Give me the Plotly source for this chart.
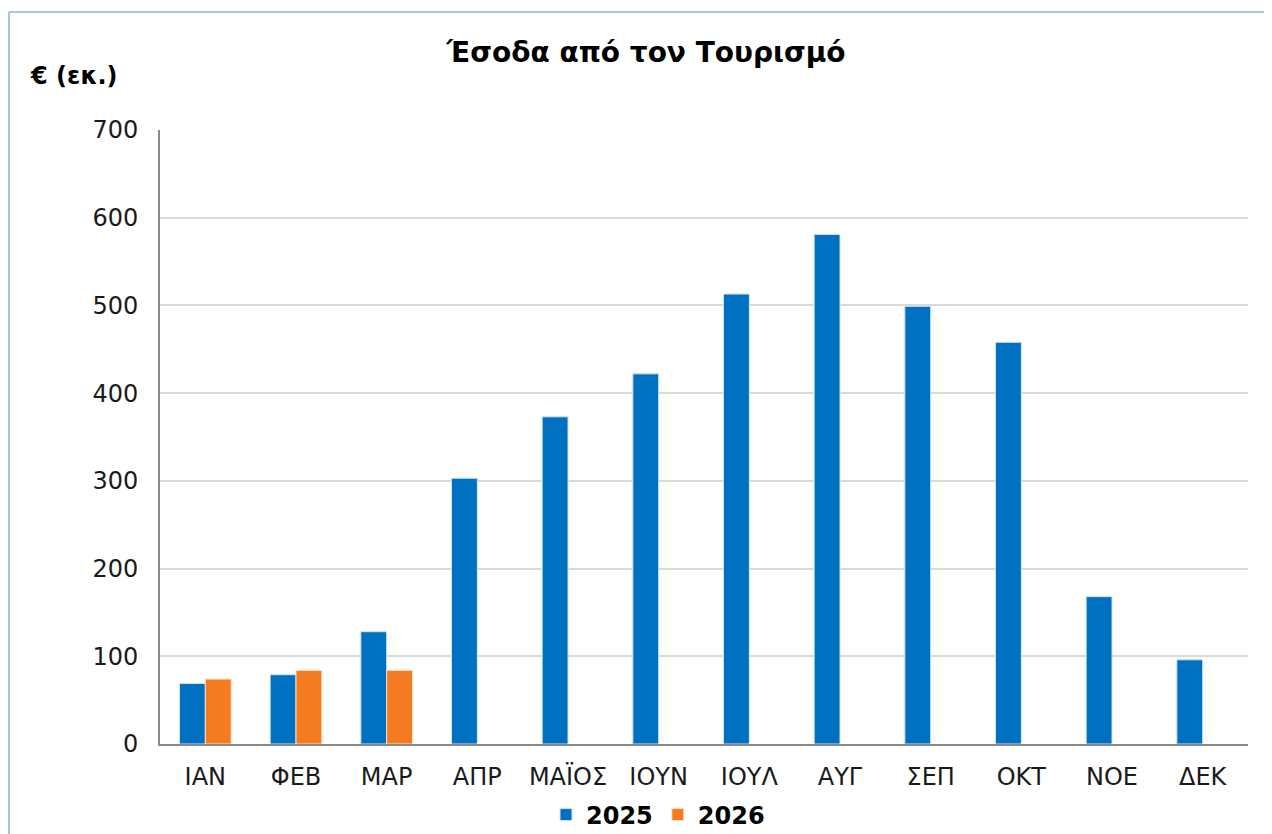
import plotly.graph_objects as go

months = ["ΙΑΝ", "ΦΕΒ", "ΜΑΡ", "ΑΠΡ", "ΜΑΪΟΣ", "ΙΟΥΝ", "ΙΟΥΛ", "ΑΥΓ", "ΣΕΠ", "ΟΚΤ", "ΝΟΕ", "ΔΕΚ"]
values_2025 = [69, 79, 128, 303, 373, 422, 513, 581, 499, 458, 168, 96]
months_2026 = ["ΙΑΝ", "ΦΕΒ", "ΜΑΡ"]
values_2026 = [74, 84, 84]
y_ticks = [0, 100, 200, 300, 400, 500, 600, 700]

FONT = "DejaVu Sans"
W, H = 1264, 826
L, R, T, B = 152, 24, 122, 90
PW, PH = W - L - R, H - T - B

fig = go.Figure()
fig.add_trace(go.Bar(
    x=months, y=values_2025, name="<b>2025</b>",
    marker=dict(color="#0070C0", line=dict(color="#cfe3f5", width=1)),
))
fig.add_trace(go.Bar(
    x=months_2026, y=values_2026, name="<b>2026</b>",
    marker=dict(color="#F47B20", line=dict(color="#fde0c8", width=1)),
))

border = dict(color="#a9c4eb", width=2)
fig.update_layout(
    width=W, height=H,
    paper_bgcolor="white", plot_bgcolor="white",
    margin=dict(l=L, r=R, t=T, b=B, autoexpand=False),
    barmode="group", bargap=0.43, bargroupgap=0,
    font=dict(family=FONT, color="#1a1a1a", size=20),
    title=dict(text="<b>Έσοδα από τον Τουρισμό</b>", x=638 / W, xanchor="center",
               y=1 - 44 / H, yanchor="middle",
               font=dict(family=FONT, size=28, color="#000000")),
    showlegend=True,
    legend=dict(orientation="h", xref="container", yref="container",
                x=650 / W, xanchor="center", y=(H - 807) / H, yanchor="middle",
                font=dict(family=FONT, size=24, color="#000000"),
                itemwidth=30, traceorder="normal"),
    xaxis=dict(
        categoryorder="array", categoryarray=months,
        showline=True, linecolor="#898989", linewidth=2,
        ticks="", ticklabelstandoff=10,
        tickfont=dict(family=FONT, size=24, color="#1a1a1a"),
        showgrid=False,
    ),
    yaxis=dict(
        range=[0, 700], tickvals=y_ticks,
        showline=True, linecolor="#898989", linewidth=2,
        showgrid=True, gridcolor="#d9d9d9", gridwidth=2,
        ticks="", ticklen=0, ticklabelstandoff=15,
        tickfont=dict(family=FONT, size=24, color="#1a1a1a"),
        zeroline=False,
    ),
    annotations=[
        dict(text="<b>€ (εκ.)</b>", xref="paper", yref="paper",
             x=-(L - 20) / PW, xanchor="left",
             y=1 + (T - 68) / PH, yanchor="middle",
             showarrow=False, font=dict(family=FONT, size=24, color="#000000")),
    ],
    shapes=[
        dict(type="line", xref="paper", yref="paper",
             x0=-(L - 1) / PW, x1=1 + R / PW,
             y0=1 + (T - 4) / PH, y1=1 + (T - 4) / PH, line=border, layer="below"),
        dict(type="line", xref="paper", yref="paper",
             x0=-(L - 1) / PW, x1=-(L - 1) / PW,
             y0=-B / PH, y1=1 + (T - 4) / PH, line=border, layer="below"),
    ],
)

fig.write_html("out.html")
